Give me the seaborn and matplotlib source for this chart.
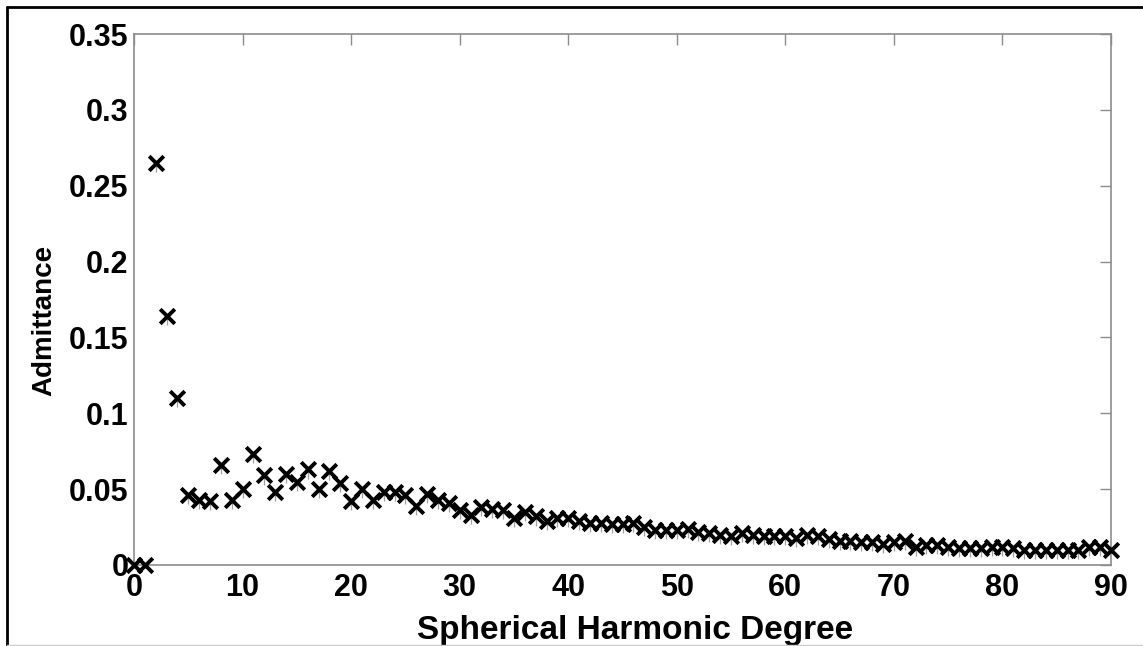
import numpy as np
import pandas as pd
import matplotlib
matplotlib.use("Agg")
import matplotlib.pyplot as plt
from matplotlib.lines import Line2D
import seaborn as sns

# Spherical harmonic degrees and admittance estimates
degree = list(range(0, 91))
admittance = [
    0.0, 0.0, 0.265, 0.164, 0.110, 0.046, 0.043, 0.042, 0.066, 0.043,
    0.050, 0.073, 0.059, 0.048, 0.060, 0.055, 0.063, 0.050, 0.062, 0.054,
    0.042, 0.050, 0.043, 0.048, 0.048, 0.046, 0.039, 0.047, 0.043, 0.041,
    0.036, 0.033, 0.038, 0.037, 0.036, 0.031, 0.035, 0.032, 0.029, 0.031,
    0.031, 0.029, 0.028, 0.028, 0.027, 0.027, 0.028, 0.025, 0.023, 0.023,
    0.023, 0.024, 0.022, 0.021, 0.020, 0.019, 0.021, 0.020, 0.019, 0.019,
    0.019, 0.018, 0.020, 0.019, 0.017, 0.016, 0.016, 0.015, 0.015, 0.014,
    0.015, 0.016, 0.012, 0.013, 0.013, 0.012, 0.011, 0.011, 0.011, 0.012,
    0.012, 0.011, 0.010, 0.010, 0.010, 0.010, 0.010, 0.010, 0.012, 0.012,
    0.010,
]
lower_spread = 0.006  # downward uncertainty stem below each estimate

x_ticks = [0, 10, 20, 30, 40, 50, 60, 70, 80, 90]
y_ticks = [0, 0.05, 0.1, 0.15, 0.2, 0.25, 0.3, 0.35]
y_tick_labels = ["0", "0.05", "0.1", "0.15", "0.2", "0.25", "0.3", "0.35"]

df = pd.DataFrame({"degree": degree, "admittance": admittance})

sns.set_theme(style="white")
plt.rcParams["font.family"] = ["Liberation Sans", "DejaVu Sans"]
plt.rcParams["font.weight"] = "bold"
plt.rcParams["text.color"] = "black"
plt.rcParams["axes.labelcolor"] = "black"

fig = plt.figure(figsize=(11.43, 6.46), dpi=100)
ax = fig.add_axes([134 / 1143, 81 / 646, 977 / 1143, 531 / 646])

# thin grey stems hanging below the markers
ax.errorbar(df["degree"], df["admittance"],
            yerr=[[lower_spread] * len(df), [0] * len(df)],
            fmt="none", ecolor="#a0a0a0", elinewidth=0.9, capsize=0, zorder=2)

sns.scatterplot(data=df, x="degree", y="admittance", marker="x", color="black",
                s=110, linewidth=2.8, ax=ax, zorder=3, clip_on=False)

ax.set_xlim(0, 90)
ax.set_ylim(0, 0.35)
ax.set_xticks(x_ticks)
ax.set_xticklabels([str(t) for t in x_ticks])
ax.set_yticks(y_ticks)
ax.set_yticklabels(y_tick_labels)

ax.tick_params(axis="both", which="both", direction="in", length=8, width=1,
               color="#8c8c8c", top=True, right=True, labelsize=22,
               labelcolor="black")
ax.tick_params(axis="x", pad=6)
ax.tick_params(axis="y", pad=4)
for lab in ax.get_xticklabels() + ax.get_yticklabels():
    lab.set_fontweight("bold")

for side in ["left", "right", "top", "bottom"]:
    ax.spines[side].set_visible(True)
    ax.spines[side].set_color("#8c8c8c")
    ax.spines[side].set_linewidth(1.2)

ax.set_xlabel("Spherical Harmonic Degree", fontsize=24, fontweight="bold",
              color="black")
ax.set_ylabel("Admittance", fontsize=20, fontweight="bold", color="black")
ax.xaxis.set_label_coords(0.513, -0.094)
ax.yaxis.set_label_coords(-0.078, 0.461)

# outer frame around the figure
W, H = 1143, 646
fig.add_artist(Line2D([7 / W, 1.0], [1 - 7 / H, 1 - 7 / H], color="black",
                      linewidth=2.0, transform=fig.transFigure))
fig.add_artist(Line2D([7 / W, 7 / W], [0.0, 1 - 7 / H], color="black",
                      linewidth=2.0, transform=fig.transFigure))
fig.add_artist(Line2D([7 / W, 1.0], [1.5 / H, 1.5 / H], color="#cccccc",
                      linewidth=1.0, transform=fig.transFigure))

fig.savefig("out.png", dpi=100, facecolor="white")
